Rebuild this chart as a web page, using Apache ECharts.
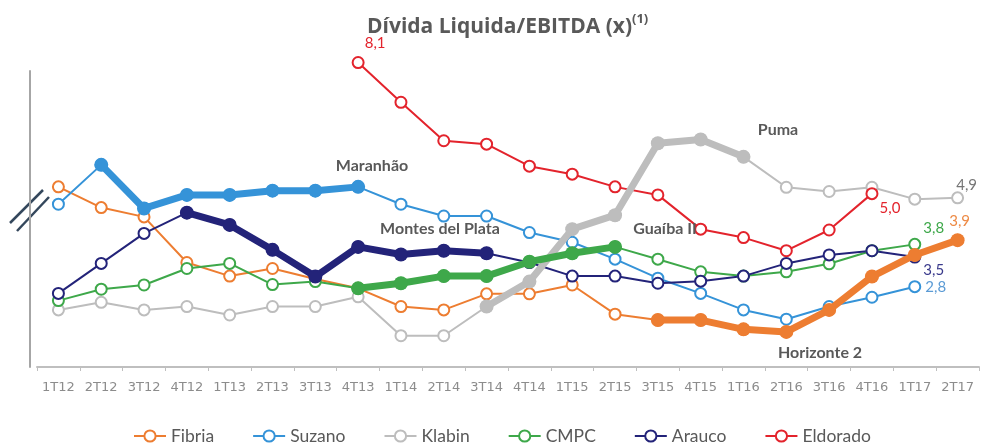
<!DOCTYPE html>
<html>
<head>
<meta charset="utf-8">
<script src="https://cdn.jsdelivr.net/npm/echarts@6/dist/echarts.min.js"></script>
<style>
html,body{margin:0;padding:0;background:#fff;}
#c{width:981px;height:445px;}
</style>
</head>
<body>
<div id="c"></div>
<script>
const categories = ['1T12','2T12','3T12','4T12','1T13','2T13','3T13','4T13','1T14','2T14','3T14','4T14','1T15','2T15','3T15','4T15','1T16','2T16','3T16','4T16','1T17','2T17'];
const fibria   = [5.16,4.67,4.45,3.37,3.05,3.23,2.98,2.76,2.33,2.25,2.63,2.63,2.84,2.15,2.01,2.01,1.79,1.73,2.25,3.04,3.55,3.9];
const suzano   = [4.75,5.68,4.65,4.97,4.97,5.07,5.07,5.16,4.75,4.47,4.47,4.08,3.85,3.45,3.00,2.64,2.25,2.03,2.33,2.55,2.8,null];
const klabin   = [2.25,2.43,2.25,2.33,2.13,2.33,2.33,2.56,1.64,1.64,2.33,2.92,4.16,4.49,6.19,6.28,5.87,5.15,5.05,5.15,4.87,4.9];
const cmpc     = [2.47,2.74,2.84,3.23,3.35,2.85,2.92,2.76,2.88,3.05,3.05,3.39,3.59,3.74,3.45,3.15,3.05,3.15,3.34,3.65,3.8,null];
const arauco   = [2.64,3.35,4.06,4.55,4.26,3.67,3.04,3.74,3.56,3.65,3.59,3.37,3.05,3.05,2.88,2.93,3.05,3.35,3.55,3.65,3.5,null];
const eldorado = [null,null,null,null,null,null,null,8.1,7.16,6.25,6.17,5.65,5.46,5.16,4.97,4.16,3.96,3.65,4.14,5.0,null,null];

const seriesNames = ['Fibria','Suzano','Klabin','CMPC','Arauco','Eldorado'];
// project periods (start index, end index) drawn as thick segments
const projects = [
  {name:'Horizonte 2', of:'Fibria', from:14, to:21},
  {name:'Maranhão', of:'Suzano', from:1, to:7},
  {name:'Puma', of:'Klabin', from:10, to:16},
  {name:'Guaíba II', of:'CMPC', from:7, to:13},
  {name:'Montes del Plata', of:'Arauco', from:3, to:10}
];
// labelled values: series name, index
const labelled = [
  {of:'Eldorado', idx:7}, {of:'Eldorado', idx:19}, {of:'Klabin', idx:21},
  {of:'CMPC', idx:20}, {of:'Fibria', idx:21}, {of:'Arauco', idx:20}, {of:'Suzano', idx:20}
];

const values = {Fibria:fibria, Suzano:suzano, Klabin:klabin, CMPC:cmpc, Arauco:arauco, Eldorado:eldorado};
const colors = {Fibria:'#ED7D31', Suzano:'#3593D8', Klabin:'#BDBDBD', CMPC:'#3EA84A', Arauco:'#232379', Eldorado:'#E3232C'};
const labelColors = {Fibria:'#ED8A45', Suzano:'#5B9BD5', Klabin:'#757575', CMPC:'#3EA84A', Arauco:'#3A3A8C', Eldorado:'#E3232C'};
const labelOffsets = {
  'Eldorado-7':[17,-19], 'Eldorado-19':[18,15], 'Klabin-21':[9,-13],
  'CMPC-20':[19,-16], 'Fibria-21':[2,-19], 'Arauco-20':[19,13], 'Suzano-20':[21,0]
};
const FONT = 'Lato, "DejaVu Sans", sans-serif';

const series = [];
seriesNames.forEach(n => {
  const data = values[n].map((v, i) => {
    const key = n + '-' + i;
    if (labelled.some(l => l.of === n && l.idx === i)) {
      return {value: v, label: {show: true, position: 'inside', offset: labelOffsets[key],
        formatter: p => p.value.toFixed(1).replace('.', ','),
        color: labelColors[n], fontSize: 15, fontFamily: FONT}};
    }
    return v;
  });
  series.push({
    name: n, type: 'line', data: data, color: colors[n],
    symbol: 'emptyCircle', symbolSize: 11, clip: false,
    lineStyle: {width: 2, color: colors[n]},
    itemStyle: {color: colors[n], borderWidth: 2, borderColor: colors[n]},
    emphasis: {disabled: true}, z: 2
  });
});
projects.forEach(p => {
  const src = values[p.of];
  series.push({
    name: p.name, type: 'line', color: colors[p.of],
    data: src.map((v, i) => (i >= p.from && i <= p.to) ? v : null),
    symbol: 'circle', symbolSize: 14, clip: false,
    lineStyle: {width: 7, color: colors[p.of]},
    itemStyle: {color: colors[p.of]},
    emphasis: {disabled: true}, z: 3
  });
});

const annStyle = {fill: '#595959', font: 'bold 16px ' + FONT, textAlign: 'center', textVerticalAlign: 'middle'};
const option = {
  animation: false,
  title: {
    text: '{t|Dívida Liquida/EBITDA (x)}{s|(1)}',
    left: 362, top: 8,
    textStyle: {rich: {
      t: {fontSize: 21, fontWeight: 'bold', color: '#595959', fontFamily: '"Open Sans", sans-serif', lineHeight: 28},
      s: {fontSize: 13, fontWeight: 'bold', color: '#595959', fontFamily: '"Open Sans", sans-serif', verticalAlign: 'top', lineHeight: 16}
    }}
  },
  legend: {
    data: seriesNames, left: 128, top: 422, itemWidth: 32, itemHeight: 14, itemGap: 38,
    textStyle: {fontSize: 17.5, color: '#595959', fontFamily: FONT}
  },
  grid: {left: 37, right: 2, top: 71, bottom: 78},
  xAxis: {
    type: 'category', data: categories, boundaryGap: true,
    axisLine: {lineStyle: {color: '#BFBFBF', width: 2}},
    axisTick: {show: true, length: 4, lineStyle: {color: '#BFBFBF'}},
    axisLabel: {color: '#8C8C8C', fontSize: 13, fontFamily: '"DejaVu Sans", sans-serif', margin: 14, interval: 0}
  },
  yAxis: {
    type: 'value', min: 0.9, max: 7.9, offset: 7,
    axisLine: {show: true, lineStyle: {color: '#A6A6A6', width: 2}},
    axisTick: {show: false}, axisLabel: {show: false}, splitLine: {show: false}
  },
  series: series,
  graphic: [
    {type: 'line', shape: {x1: 10, y1: 223, x2: 43, y2: 190}, style: {stroke: '#34475C', lineWidth: 2.5}},
    {type: 'line', shape: {x1: 17, y1: 231, x2: 49, y2: 197}, style: {stroke: '#34475C', lineWidth: 2.5}},
    {type: 'text', x: 372, y: 166, style: Object.assign({text: 'Maranhão'}, annStyle), z: 10},
    {type: 'text', x: 440, y: 229, style: Object.assign({text: 'Montes del Plata'}, annStyle), z: 10},
    {type: 'text', x: 665, y: 229, style: Object.assign({text: 'Guaíba II'}, annStyle), z: 10},
    {type: 'text', x: 778, y: 130, style: Object.assign({text: 'Puma'}, annStyle), z: 10},
    {type: 'text', x: 820, y: 353, style: Object.assign({text: 'Horizonte 2'}, annStyle), z: 10}
  ]
};
const chart = echarts.init(document.getElementById('c'), null, {renderer: 'canvas'});
chart.setOption(option);
</script>
</body>
</html>
